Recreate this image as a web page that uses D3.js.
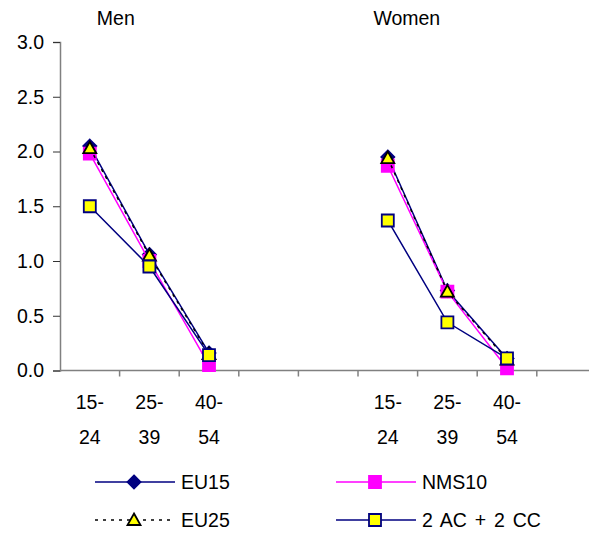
<!DOCTYPE html>
<html>
<head>
<meta charset="utf-8">
<script src="https://cdn.jsdelivr.net/npm/d3@7"></script>
<style>
  html, body { margin: 0; padding: 0; background: #fff; }
  svg { display: block; font-family: "Liberation Sans", Arial, sans-serif; }
</style>
</head>
<body>
<svg id="chart" width="589" height="535"></svg>
<script>
// Age groups shown in each panel, and the panel titles
const panels = ["Men", "Women"];
const ageGroups = ["15-24", "25-39", "40-54"];
const yTicks = [0, 0.5, 1.0, 1.5, 2.0, 2.5, 3.0];

// Series values: Men (15-24, 25-39, 40-54) followed by Women (15-24, 25-39, 40-54)
const eu15   = [2.05, 1.06, 0.16, 1.95, 0.73, 0.11];
const nms10  = [1.98, 1.00, 0.05, 1.87, 0.72, 0.02];
const eu25   = [2.03, 1.05, 0.15, 1.94, 0.72, 0.10];
const acc    = [1.50, 0.95, 0.14, 1.37, 0.44, 0.11];

const seriesNames = ["EU15", "NMS10", "EU25", "2 AC + 2 CC"];

const FONT = 19.5;
const svg = d3.select("#chart");

// Each panel occupies five slots: three age groups plus two empty ones
const slotsPerPanel = 5;
const nSlots = panels.length * slotsPerPanel;
const x = d3.scaleBand().domain(d3.range(nSlots)).range([60, 60 + nSlots * 59.6]).padding(0);
const y = d3.scaleLinear().domain([0, 3]).range([370.5, 42]);

const slotOf = (i) => Math.floor(i / ageGroups.length) * slotsPerPanel + (i % ageGroups.length);
const cx = (i) => x(slotOf(i)) + x.bandwidth() / 2;

// Y axis
const yAxis = d3.axisLeft(y).tickValues(yTicks).tickFormat(d3.format(".1f")).tickSize(7).tickPadding(9);
const gy = svg.append("g").attr("transform", "translate(60,0)").call(yAxis);
gy.select(".domain").attr("stroke", "#808080").attr("stroke-width", 1.5);
gy.selectAll(".tick line").attr("stroke", "#333").attr("stroke-width", 1);
gy.selectAll(".tick text").attr("fill", "#000").attr("font-size", FONT)
  .attr("font-family", "Liberation Sans, Arial, sans-serif");

// X axis along the zero line with ticks between categories
const xEnd = 589;
const gx = svg.append("g");
gx.append("line").attr("x1", 60).attr("x2", xEnd).attr("y1", y(0)).attr("y2", y(0))
  .attr("stroke", "#808080").attr("stroke-width", 1.5);
gx.selectAll("line.tk").data(d3.range(1, nSlots + 1).map(i => 60 + i * x.bandwidth()).filter(v => v <= xEnd))
  .join("line").attr("class", "tk")
  .attr("x1", d => d).attr("x2", d => d).attr("y1", y(0)).attr("y2", y(0) + 6)
  .attr("stroke", "#808080").attr("stroke-width", 1.5);

// Category labels on two lines
const catIdx = d3.range(panels.length * ageGroups.length);
const lab = svg.append("g").attr("font-size", FONT).attr("text-anchor", "middle").attr("fill", "#000");
catIdx.forEach(i => {
  const parts = ageGroups[i % ageGroups.length].split("-");
  lab.append("text").attr("x", cx(i)).attr("y", 409).text(parts[0] + "-");
  lab.append("text").attr("x", cx(i)).attr("y", 444).text(parts[1]);
});

// Panel titles, placed over the first age group of each panel
const titleShift = [26, 19];
panels.forEach((p, k) => {
  svg.append("text").attr("x", cx(k * 3) + titleShift[k]).attr("y", 25).attr("text-anchor", "middle")
    .attr("font-size", FONT).attr("fill", "#000").text(p);
});

// Series styles
const styles = {
  "EU15": { values: eu15, stroke: "#000080", width: 1.5, dash: null, marker: "diamond", fill: "#000080", mstroke: "#000080" },
  "NMS10": { values: nms10, stroke: "#FF00FF", width: 1.5, dash: null, marker: "square", fill: "#FF00FF", mstroke: "#FF00FF" },
  "EU25": { values: eu25, stroke: "#000", width: 1.5, dash: "3,5", marker: "triangle", fill: "#FFFF00", mstroke: "#000" },
  "2 AC + 2 CC": { values: acc, stroke: "#000080", width: 1.5, dash: null, marker: "square", fill: "#FFFF00", mstroke: "#000080" }
};

function markerPath(type) {
  if (type === "diamond") return "M0,-6.5L6.5,0L0,6.5L-6.5,0Z";
  if (type === "square") return "M-6,-6H6V6H-6Z";
  if (type === "triangle") return "M0,-6.5L6.5,5H-6.5Z";
  return "";
}

const line = d3.line().x(d => d[0]).y(d => d[1]);

seriesNames.forEach(name => {
  const s = styles[name];
  const g = svg.append("g");
  panels.forEach((p, k) => {
    const pts = ageGroups.map((a, j) => [cx(k * 3 + j), y(s.values[k * 3 + j])]);
    g.append("path").attr("d", line(pts)).attr("fill", "none")
      .attr("stroke", s.stroke).attr("stroke-width", s.width)
      .attr("stroke-dasharray", s.dash);
  });
  g.selectAll("path.m").data(s.values).join("path").attr("class", "m")
    .attr("transform", (v, i) => `translate(${cx(i)},${y(v)})`)
    .attr("d", markerPath(s.marker))
    .attr("fill", s.fill).attr("stroke", s.mstroke).attr("stroke-width", 1.8);
});

// Legend
const legendPos = {
  "EU15": [95, 482], "NMS10": [336, 482], "EU25": [95, 520], "2 AC + 2 CC": [336, 520]
};
seriesNames.forEach(name => {
  const s = styles[name];
  const [lx, ly] = legendPos[name];
  const g = svg.append("g").attr("transform", `translate(${lx},${ly})`);
  g.append("line").attr("x1", 0).attr("x2", 80).attr("y1", 0).attr("y2", 0)
    .attr("stroke", s.stroke).attr("stroke-width", s.width).attr("stroke-dasharray", s.dash);
  g.append("path").attr("transform", "translate(39,0)").attr("d", markerPath(s.marker))
    .attr("fill", s.fill).attr("stroke", s.mstroke).attr("stroke-width", 1.8);
  g.append("text").attr("x", 86).attr("y", 7).attr("font-size", FONT).attr("fill", "#000")
    .attr("word-spacing", 2.5).text(name);
});
</script>
</body>
</html>
